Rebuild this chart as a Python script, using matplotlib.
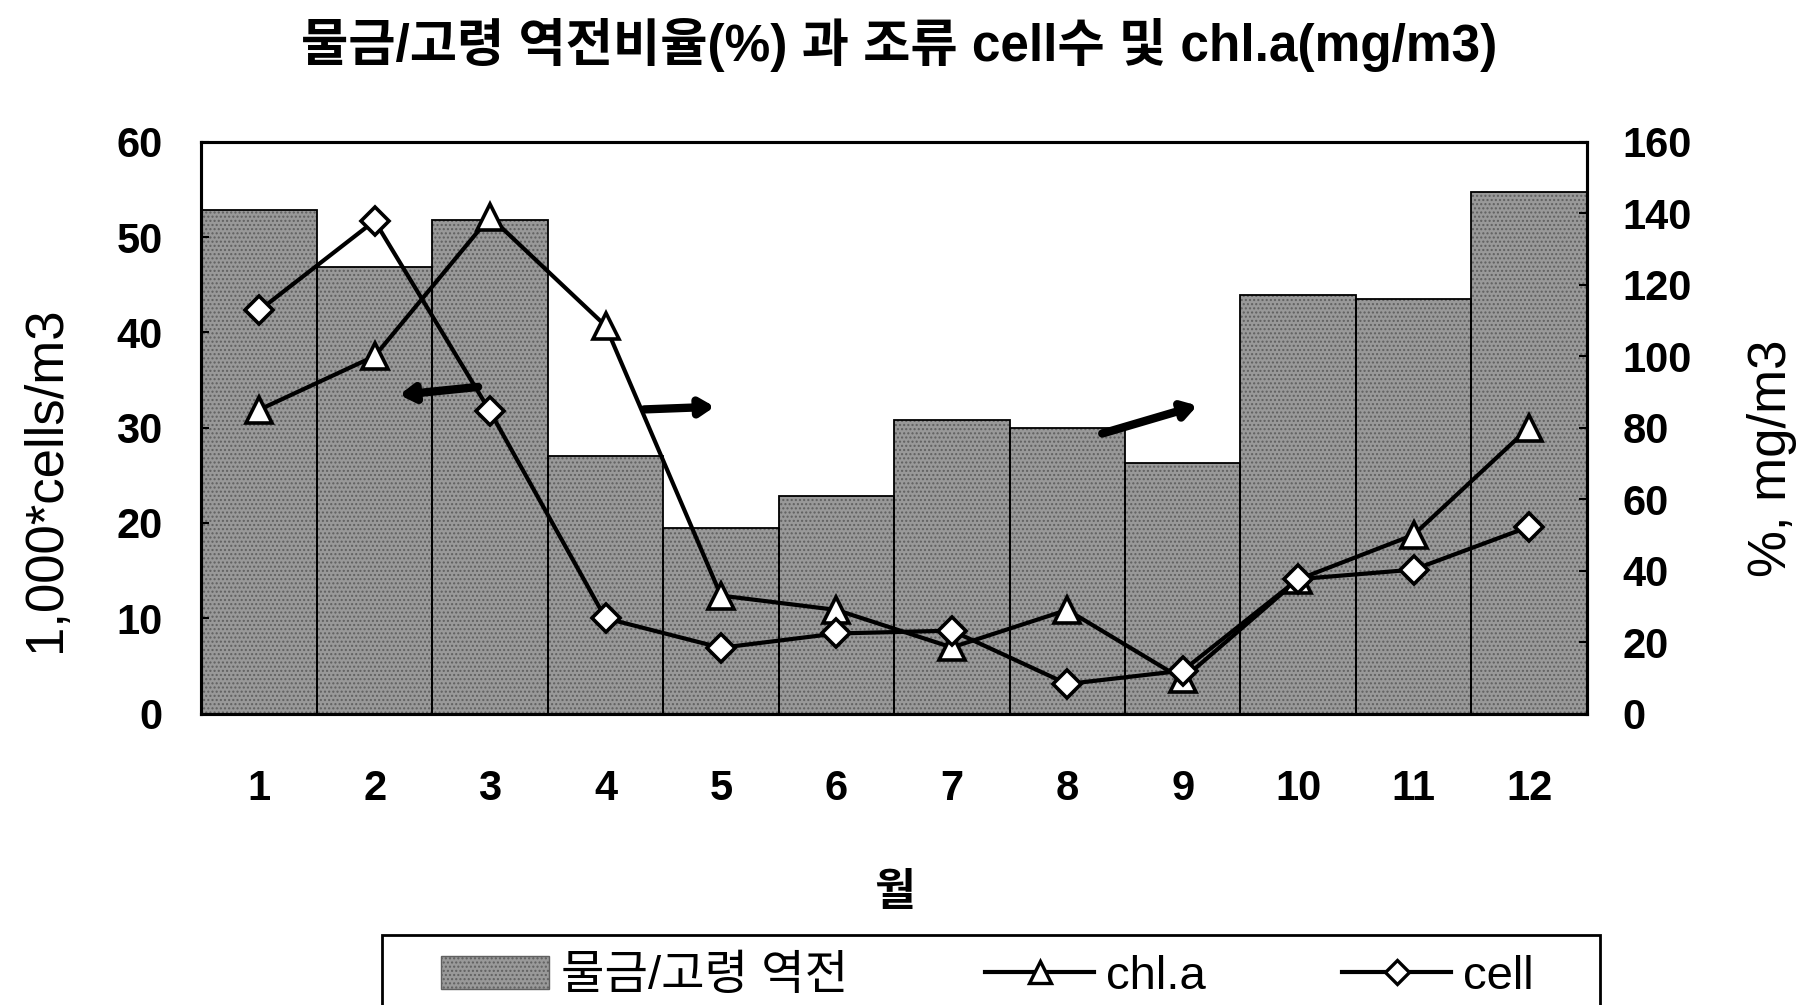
import numpy as np
import matplotlib
matplotlib.use('Agg')
import matplotlib.pyplot as plt
from matplotlib.patches import Patch, Rectangle
from matplotlib.lines import Line2D

plt.rcParams['font.family'] = ['Liberation Sans', 'Noto Sans CJK KR']

months = [1, 2, 3, 4, 5, 6, 7, 8, 9, 10, 11, 12]
# 물금/고령 역전비율 (%), right axis
reverse_pct = [141, 125, 138, 72, 52, 61, 82, 80, 70, 117, 116, 146]
# chl.a (mg/m3), right axis
chla = [85, 100, 139, 108.5, 33, 29, 18.5, 29, 9.6, 37.5, 50, 80]
# cell (1,000 cells/m3), left axis
cell = [42.3, 51.7, 31.7, 10.0, 6.9, 8.4, 8.7, 3.1, 4.5, 14.1, 15.1, 19.6]

fig = plt.figure(figsize=(17.99, 10.05), dpi=100)
ax = fig.add_axes([0.112, 0.290, 0.770, 0.569])
ax2 = ax.twinx()

# bars on the right axis, drawn behind everything
ax2.bar(months, reverse_pct, width=1.0, color='#999999', hatch='....',
        edgecolor='#606060', linewidth=0, zorder=1)
ax2.bar(months, reverse_pct, width=1.0, fill=False, edgecolor='black',
        linewidth=1.3, zorder=2)
ax2.plot(months, chla, color='black', lw=3, marker='^', ms=19,
         mfc='white', mec='black', mew=2.6, zorder=4)

ax.set_zorder(ax2.get_zorder() + 1)
ax.patch.set_visible(False)
ax.plot(months, cell, color='black', lw=3, marker='D', ms=14,
        mfc='white', mec='black', mew=2.6, zorder=5)

ax.set_xlim(0.5, 12.5)
ax.set_ylim(0, 60)
ax2.set_ylim(0, 160)
ax.set_yticks(np.arange(0, 61, 10))
ax2.set_yticks(np.arange(0, 161, 20))
ax.set_xticks(months)

ax.tick_params(axis='x', length=0, pad=40, labelsize=30)
ax.tick_params(axis='y', direction='in', length=6, width=1.5, pad=28, labelsize=30)
ax2.tick_params(axis='y', direction='in', length=6, width=1.5, pad=26, labelsize=30)
for lab in ax.get_xticklabels() + ax.get_yticklabels() + ax2.get_yticklabels():
    lab.set_fontweight('bold')

for a in (ax, ax2):
    for s in a.spines.values():
        s.set_linewidth(2.2)

ax.set_ylabel('1,000*cells/m3', fontsize=38)
ax.yaxis.set_label_coords(-0.094, 0.41)
ax2.set_ylabel('%, mg/m3', fontsize=38)
ax2.yaxis.set_label_coords(1.116, 0.446)
ax.set_xlabel('월', fontsize=32, fontweight='bold', labelpad=46)

fig.suptitle('물금/고령 역전비율(%) 과 조류 cell수 및 chl.a(mg/m3)',
             fontsize=37, fontweight='bold', y=0.982)

# arrows indicating which axis each line belongs to
arrow_kw = dict(arrowstyle='-|>,head_length=0.8,head_width=0.5', lw=6, color='black')
ax.annotate('', xy=(2.19, 33.4), xytext=(2.92, 34.3), arrowprops=arrow_kw, zorder=6)
ax.annotate('', xy=(4.97, 32.2), xytext=(4.31, 31.9), arrowprops=arrow_kw, zorder=6)
ax.annotate('', xy=(9.15, 32.4), xytext=(8.28, 29.3), arrowprops=arrow_kw, zorder=6)

# legend box runs off the bottom edge, as in the original
fig.patches.append(Rectangle((0.2124, -0.05), 0.677, 0.1197, transform=fig.transFigure,
                             fill=False, edgecolor='black', linewidth=2))

handles = [
    Patch(facecolor='#999999', hatch='....', edgecolor='#606060', linewidth=1),
    Line2D([], [], color='black', lw=3, marker='^', ms=16, mfc='white', mec='black', mew=2.4),
    Line2D([], [], color='black', lw=3, marker='D', ms=12, mfc='white', mec='black', mew=2.4),
]
leg = fig.legend(handles, ['물금/고령 역전', 'chl.a', 'cell'], ncol=3,
                 loc='upper left', bbox_to_anchor=(0.245, 0.050), borderaxespad=0,
                 fontsize=34, frameon=False, borderpad=0,
                 columnspacing=2.9, handlelength=2.3, handletextpad=0.25)

fig.savefig('out.png', dpi=100)
